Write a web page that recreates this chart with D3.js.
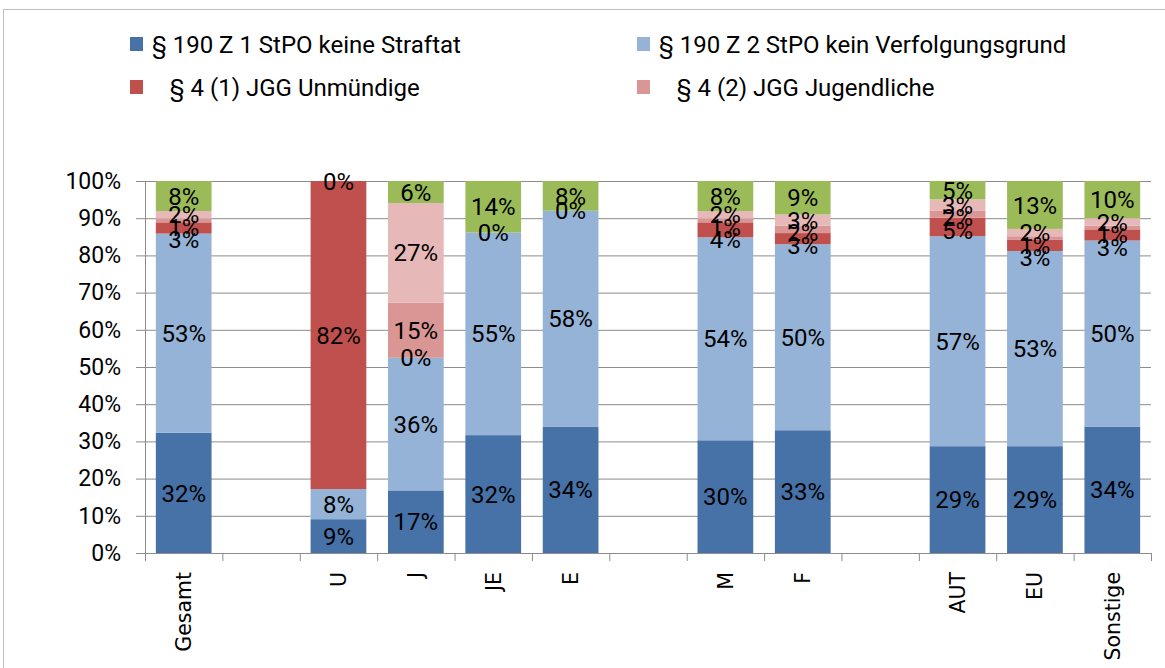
<!DOCTYPE html>
<html>
<head>
<meta charset="utf-8">
<script src="https://cdn.jsdelivr.net/npm/d3@7"></script>
<style>
  body { margin: 0; background: #fff; }
  svg text { white-space: pre; }
</style>
</head>
<body>
<div id="chart"></div>
<script>
// categories (empty strings are spacer slots in the original chart)
var categories = ["Gesamt", "", "U", "J", "JE", "E", "", "M", "F", "", "AUT", "EU", "Sonstige"];

// series values in percent (rounded as labelled), null = no value
var keineStraftat     = [32, null, 9, 17, 32, 34, null, 30, 33, null, 29, 29, 34];
var keinVerfolgung    = [53, null, 8, 36, 55, 58, null, 54, 50, null, 57, 53, 50];
var jggUnmuendige     = [3, null, 82, 0, 0, 0, null, 4, 3, null, 5, 3, 3];
var jggJugendliche    = [1, null, null, 15, null, null, null, 1, 2, null, 2, 1, 1];
var serie5            = [2, null, null, 27, null, null, null, 2, 3, null, 3, 2, 2];
var serie6            = [8, null, 0, 6, 14, 8, null, 8, 9, null, 5, 13, 10];

var legendNames = ["§ 190 Z 1 StPO keine Straftat", "§ 190 Z 2 StPO kein Verfolgungsgrund",
                   "   § 4 (1) JGG Unmündige", "   § 4 (2) JGG Jugendliche"];
var yTicks = [0, 0.1, 0.2, 0.3, 0.4, 0.5, 0.6, 0.7, 0.8, 0.9, 1];

var seriesList = [keineStraftat, keinVerfolgung, jggUnmuendige, jggJugendliche, serie5, serie6];
var keys = ["s1", "s2", "s3", "s4", "s5", "s6"];
var colors = ["#4672a8", "#95b3d7", "#c0504d", "#d99694", "#e6b9b8", "#9bbb59"];

var width = 1165, height = 668;
var plot = {left: 145, right: 1151, top: 181, bottom: 553};

var table = categories.map(function (c, i) {
    var row = {idx: i, cat: c};
    keys.forEach(function (k, j) { row[k] = seriesList[j][i] == null ? 0 : seriesList[j][i]; });
    return row;
});

// 100% stacked, like the original
var stacked = d3.stack().keys(keys).offset(d3.stackOffsetExpand)(table);

var x = d3.scaleBand()
    .domain(d3.range(categories.length))
    .range([plot.left, plot.right])
    .paddingInner(0.28)
    .paddingOuter(0.14);

var slots = d3.scaleLinear()
    .domain([0, categories.length])
    .range([plot.left, plot.right]);

var y = d3.scaleLinear()
    .domain([0, 1])
    .range([plot.bottom, plot.top]);

var svg = d3.select("#chart")
    .append("svg")
    .attr("width", width)
    .attr("height", height);

// outer chart frame (only top and left edge are in view)
svg.append("rect")
    .attr("x", 3.5).attr("y", 9.5)
    .attr("width", 1200).attr("height", 700)
    .attr("fill", "none")
    .attr("stroke", "#bfbfbf");

// grid lines
svg.append("g")
    .attr("transform", "translate(" + plot.left + ",0)")
    .call(d3.axisLeft(y).tickValues(yTicks.slice(1)).tickSize(-(plot.right - plot.left)).tickFormat(""))
    .call(function (g) { g.select(".domain").remove(); })
    .selectAll("line").attr("stroke", "#8c8c8c");

// bars
var layer = svg.selectAll("g.layer")
    .data(stacked)
    .enter()
    .append("g")
    .attr("class", "layer")
    .attr("fill", function (d, i) { return colors[i]; });

layer.selectAll("rect")
    .data(function (d) { return d; })
    .enter()
    .append("rect")
    .attr("x", function (d) { return x(d.data.idx); })
    .attr("width", x.bandwidth())
    .attr("y", function (d) { return y(d[1]); })
    .attr("height", function (d) { return y(d[0]) - y(d[1]); });

// y axis
var yAxis = svg.append("g")
    .attr("transform", "translate(" + plot.left + ",0)")
    .call(d3.axisLeft(y).tickValues(yTicks).tickSize(9).tickPadding(15).tickFormat(d3.format(".0%")));
yAxis.select(".domain").attr("stroke", "#8c8c8c");
yAxis.selectAll("line").attr("stroke", "#8c8c8c");
yAxis.selectAll("text")
    .attr("fill", "#000")
    .style("font-family", "Roboto")
    .style("font-size", "23px");

// x axis, ticks between slots
var xAxis = svg.append("g")
    .attr("transform", "translate(0," + plot.bottom + ")")
    .call(d3.axisBottom(slots).ticks(categories.length).tickSizeOuter(0).tickSize(8).tickFormat(""));
xAxis.select(".domain").attr("stroke", "#8c8c8c");
xAxis.selectAll("line").attr("stroke", "#8c8c8c");

// category labels
svg.selectAll("text.cat")
    .data(categories)
    .enter()
    .append("text")
    .attr("class", "cat")
    .attr("transform", function (d, i) {
        return "translate(" + (x(i) + x.bandwidth() / 2) + "," + (plot.bottom + 19) + ") rotate(-90)";
    })
    .attr("dy", "0.36em")
    .style("text-anchor", "end")
    .style("font-family", "DejaVu Sans")
    .style("font-size", "20.5px")
    .text(function (d) { return d; });

// data labels: centred in segment, pushed down where they would overlap
var minGap = 12.5;
var labels = [];
categories.forEach(function (c, i) {
    var prev = null;
    for (var j = keys.length - 1; j >= 0; j--) {
        var v = seriesList[j][i];
        if (v == null) continue;
        var seg = stacked[j][i];
        var cy = (y(seg[0]) + y(seg[1])) / 2;
        if (prev != null && cy < prev + minGap) cy = prev + minGap;
        prev = cy;
        labels.push({x: x(i) + x.bandwidth() / 2, y: cy, v: v});
    }
});

svg.selectAll("text.val")
    .data(labels)
    .enter()
    .append("text")
    .attr("class", "val")
    .attr("x", function (d) { return d.x; })
    .attr("y", function (d) { return d.y; })
    .attr("dy", "0.36em")
    .style("text-anchor", "middle")
    .style("font-family", "Roboto")
    .style("font-size", "24px")
    .text(function (d) { return d.v + "%"; });

// legend
var legendPos = [[130, 44], [637, 44], [130, 87], [637, 87]];
var legend = svg.selectAll("g.legend")
    .data(legendNames)
    .enter()
    .append("g")
    .attr("class", "legend")
    .attr("transform", function (d, i) { return "translate(" + legendPos[i][0] + "," + legendPos[i][1] + ")"; });

legend.append("rect")
    .attr("x", 0).attr("y", -7)
    .attr("width", 13).attr("height", 14)
    .attr("fill", function (d, i) { return colors[i]; });

legend.append("text")
    .attr("x", 22)
    .attr("dy", "0.36em")
    .style("font-family", "Roboto")
    .style("font-size", "24px")
    .text(function (d) { return d; });
</script>
</body>
</html>
